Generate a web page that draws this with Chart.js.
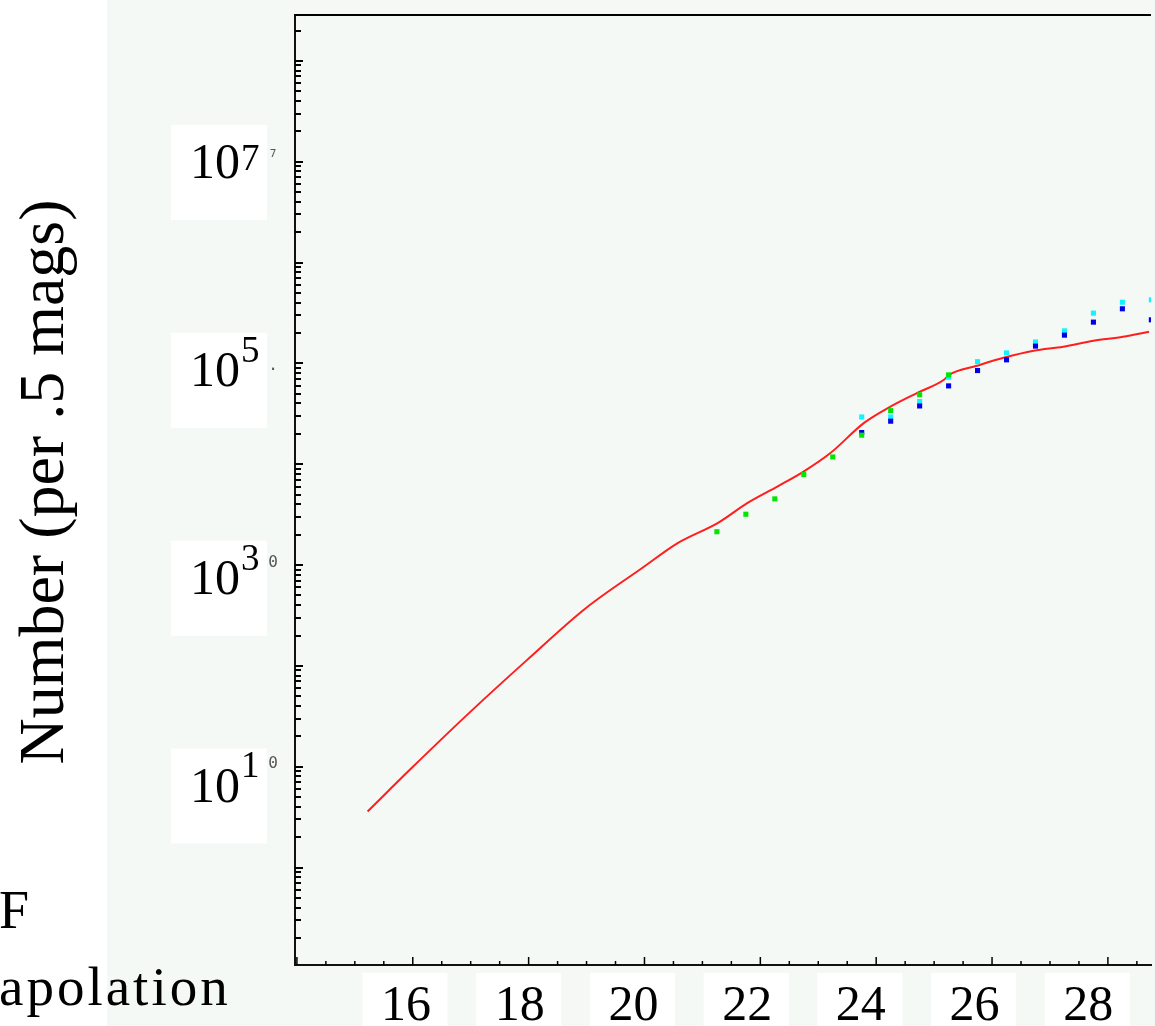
<!DOCTYPE html>
<html>
<head>
<meta charset="utf-8">
<script src="https://cdn.jsdelivr.net/npm/chart.js@4.4.1/dist/chart.umd.min.js"></script>
<style>
  html, body { margin: 0; padding: 0; background: #fff; overflow: hidden; }
  #page { position: relative; width: 1155px; height: 1026px; }
  #tint { position: absolute; left: 107px; top: 0; right: 0; bottom: 0; background: #f5f9f5; }
  #chart { position: absolute; left: 0; top: 0; }
  .note { position: absolute; font-family: 'Liberation Serif', 'Times New Roman', serif; color: #000; line-height: 1; white-space: nowrap; }
</style>
</head>
<body>
<div id="page">
  <div id="tint"></div>
  <canvas id="chart" width="1155" height="1026"></canvas>
  <div class="note" style="left:-1px; top:883px; font-size:54px;">F</div>
  <div class="note" style="left:-1px; top:959px; font-size:55px; letter-spacing:3px;">apolation</div>
</div>
<script>
// model curve (red line)
const modelMags = [15.22, 15.98, 16.97, 17.97, 18.97, 19.96, 20.58, 21.27, 21.78, 22.30, 22.76, 23.21,
  23.79, 24.24, 24.71, 25.17, 25.26, 25.74, 26.20, 26.72, 27.23, 27.75, 28.26, 28.71];
const modelCounts = [3.6, 9.7, 34, 114, 367, 935, 1660, 2620, 4130, 6030, 8550, 12900,
  25700, 37100, 51000, 68700, 76900, 94600, 113500, 133300, 146000, 167500, 183600, 206000];

// observed counts
const greenMags = [21.25, 21.75, 22.25, 22.75, 23.25, 23.75, 24.25, 24.75, 25.25];
const greenCounts = [2140, 3190, 4530, 7890, 11800, 19400, 34000, 48800, 76900];

const cyanMags = [23.75, 24.25, 24.75, 25.25, 25.75, 26.25, 26.75, 27.25, 27.75, 28.25, 28.75];
const cyanCounts = [29400, 29400, 41800, 72900, 104000, 127000, 163000, 210000, 315000, 404000, 427000];

const blueMags = [23.75, 24.25, 24.75, 25.25, 25.75, 26.25, 26.75, 27.25, 27.75, 28.25, 28.75];
const blueCounts = [20600, 26700, 37800, 59800, 84900, 108400, 148300, 190500, 256400, 347600, 270400];

// tick labels
const magLabels = [16, 18, 20, 22, 24, 26, 28];
const countExps = [1, 3, 5, 7];
const stray = ['0', '0', '.', '7'];

const serif = "'Liberation Serif', 'Times New Roman', serif";

const pts = (xs, ys) => xs.map((x, i) => ({ x: x, y: ys[i] }));

function magTicks() {
  const out = [];
  for (let v = 14; v <= 28.5; v += 0.5) out.push({ value: v, major: v % 2 === 0 });
  return out;
}

// 1..9 x 10^n between the axis limits
function countTicks(min, max) {
  const out = [];
  for (let d = -1; d <= 8; d++) {
    for (let k = 1; k <= 9; k++) {
      const v = k * Math.pow(10, d);
      if (v >= min && v <= max) out.push({ value: v, major: k === 1 });
    }
  }
  return out;
}

function noPad(s) {
  s.paddingLeft = s.paddingRight = s.paddingTop = s.paddingBottom = 0;
}

const frame = {
  id: 'frame',
  afterDraw(chart) {
    const { ctx, chartArea: a, scales } = chart;
    ctx.save();
    ctx.strokeStyle = '#000';
    ctx.lineWidth = 1.5;
    scales.x.ticks.forEach(t => {
      const px = scales.x.getPixelForValue(t.value);
      ctx.beginPath();
      ctx.moveTo(px, a.bottom);
      ctx.lineTo(px, a.bottom - (t.major ? 8 : 4));
      ctx.stroke();
    });
    const y = scales.y;
    ctx.lineWidth = 2;
    y.ticks.forEach(t => {
      const py = Math.round(y.getPixelForValue(t.value));
      ctx.beginPath();
      ctx.moveTo(a.left, py);
      ctx.lineTo(a.left + (t.major ? 8 : 6), py);
      ctx.stroke();
    });
    ctx.lineWidth = 2;
    ctx.beginPath();
    ctx.moveTo(a.left - 1, a.top);
    ctx.lineTo(a.right, a.top);
    ctx.stroke();

    // exponents of the count labels
    const yl = scales.yLabels;
    const raise = [19, 19, 19, 3];
    ctx.fillStyle = '#000';
    ctx.textAlign = 'left';
    ctx.textBaseline = 'alphabetic';
    ctx.font = '37px ' + serif;
    countExps.forEach((e, i) => {
      const cy = yl.getPixelForValue(Math.pow(10, e));
      ctx.fillText(String(e), yl.right - 54, cy + 8 - raise[i]);
    });

    // little marks next to the count labels
    ctx.fillStyle = '#555';
    ctx.textAlign = 'center';
    ctx.textBaseline = 'middle';
    const shift = [-3, -2, 2, -8];
    countExps.forEach((e, i) => {
      ctx.font = (e === 7 ? 11 : 16) + "px 'DejaVu Sans Mono'";
      ctx.fillText(stray[i], a.left - 22, y.getPixelForValue(Math.pow(10, e)) + shift[i]);
    });
    ctx.restore();
  }
};

new Chart(document.getElementById('chart'), {
  type: 'scatter',
  data: {
    datasets: [
      { data: pts(greenMags, greenCounts), backgroundColor: '#00e600', pointStyle: 'rect', pointRadius: 3.6, pointBorderWidth: 0 },
      { data: pts(blueMags, blueCounts), backgroundColor: '#0000e6', pointStyle: 'rect', pointRadius: 3.6, pointBorderWidth: 0 },
      { data: pts(cyanMags, cyanCounts), backgroundColor: '#10f4ff', pointStyle: 'rect', pointRadius: 3.6, pointBorderWidth: 0 },
      { data: pts(modelMags, modelCounts), showLine: true, borderColor: 'rgb(255,30,30)', borderWidth: 2,
        pointRadius: 0, cubicInterpolationMode: 'monotone' }
    ]
  },
  options: {
    responsive: false,
    animation: false,
    layout: { padding: { top: 15, left: 0, right: 0, bottom: 0 } },
    plugins: { legend: { display: false }, tooltip: { enabled: false } },
    scales: {
      x: {
        type: 'linear', position: 'bottom', weight: 0, bounds: 'data',
        min: 13.967, max: 28.744,
        grid: { display: false, drawTicks: false },
        border: { display: true, color: '#111', width: 2 },
        ticks: { display: false },
        afterBuildTicks: s => { s.ticks = magTicks(); },
        afterFit: s => { s.height = 0; noPad(s); }
      },
      xLabels: {
        type: 'linear', position: 'bottom', weight: 1, bounds: 'data',
        min: 14.048, max: 29.103,
        grid: { display: false, drawTicks: false },
        border: { display: false },
        ticks: {
          color: '#000', font: { family: serif, size: 50 }, padding: 11.5,
          maxRotation: 0, autoSkip: false,
          showLabelBackdrop: true, backdropColor: '#fff',
          backdropPadding: { top: 3.5, bottom: 40, left: 18.5, right: 16.5 }
        },
        afterBuildTicks: s => { s.ticks = magLabels.map(v => ({ value: v })); },
        afterFit: s => { s.height = 61; noPad(s); }
      },
      y: {
        type: 'logarithmic', position: 'left', weight: 0, bounds: 'data',
        min: 0.108, max: 2.85e8,
        grid: { display: false, drawTicks: false },
        border: { display: true, color: '#111', width: 2 },
        ticks: { display: false },
        afterBuildTicks: s => { s.ticks = countTicks(0.108, 2.85e8); },
        afterFit: s => { s.width = 0; noPad(s); }
      },
      yLabels: {
        type: 'logarithmic', position: 'left', weight: 1, bounds: 'data',
        min: 0.2, max: 2.78e8,
        grid: { display: false, drawTicks: false },
        border: { display: false },
        title: {
          display: true, text: '\u2005Number (per .5 mags)', color: '#000',
          font: { family: serif, size: 64 }, padding: { top: 8, bottom: 0 }
        },
        ticks: {
          color: '#000', font: { family: serif, size: 50 }, padding: 55,
          autoSkip: false,
          showLabelBackdrop: true, backdropColor: '#fff',
          backdropPadding: { top: 10, bottom: 25, left: 19, right: 27 },
          callback: () => '10'
        },
        afterBuildTicks: s => { s.ticks = countExps.map(e => ({ value: Math.pow(10, e) })); },
        afterFit: s => { s.width = 295; noPad(s); }
      }
    }
  },
  plugins: [frame]
});
</script>
</body>
</html>
